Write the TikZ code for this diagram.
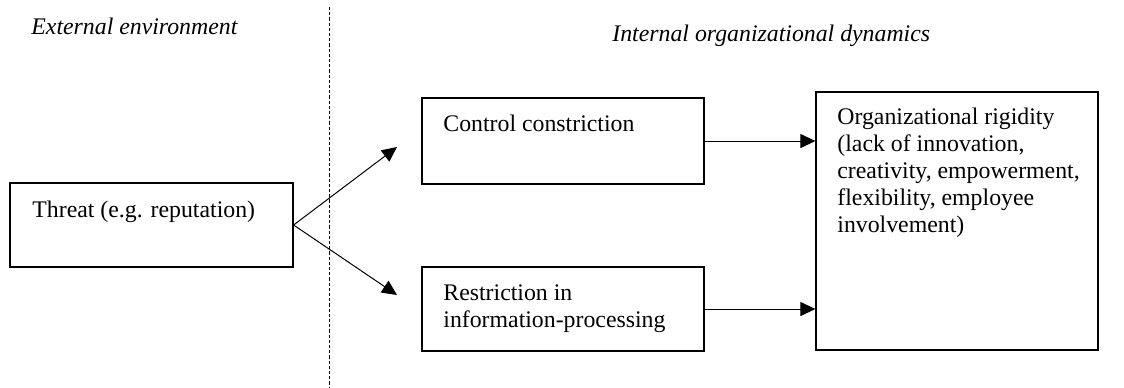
\documentclass[tikz,border=0pt]{standalone}
\usepackage{fontspec}
\setmainfont{Liberation Serif}
\usetikzlibrary{arrows.meta}
\begin{document}
\begin{tikzpicture}[x=0.5pt,y=-0.5pt,
  every node/.style={font=\fontsize{11.9}{13.5}\selectfont},
  box/.style={draw, line width=0.6pt, inner sep=0pt},
  txt/.style={anchor=base west, inner sep=0pt, align=left},
  heading/.style={anchor=base west, inner sep=0pt, font=\fontsize{11.9}{13.5}\selectfont\itshape},
  link/.style={line width=0.5pt, -{Triangle[length=7.5pt,width=7pt]}},
  divider/.style={line width=0.45pt, dash pattern=on 1.6pt off 1pt}]
\useasboundingbox (0,0) rectangle (1124,387);

% section headings
\node[heading] (ext) at (31,34) {External environment};
\node[heading] (int) at (612,41) {Internal organizational dynamics};

% boundary between environment and organization
\coordinate (divtop) at (329,7);
\coordinate (divbot) at (329,387);
\draw[divider] (divtop) -- (divbot);

% boxes
\node[box, minimum width=283*0.5pt, minimum height=84*0.5pt] (threat) at (151.5,225) {};
\node[box, minimum width=282*0.5pt, minimum height=86*0.5pt] (control) at (563,141) {};
\node[box, minimum width=282*0.5pt, minimum height=84*0.5pt] (restrict) at (563,309) {};
\node[box, minimum width=282*0.5pt, minimum height=258*0.5pt] (rigid) at (957,221) {};

% box texts (multi-line texts sit on the baseline of their last line)
\node[txt] (threattxt) at (32,217) {Threat (e.g. reputation)};
\node[txt] (controltxt) at (443,131) {Control constriction};
\node[txt] (restricttxt) at (443,327) {Restriction in\\information-processing};
\node[txt] (rigidtxt) at (837,232) {Organizational rigidity\\(lack of innovation,\\creativity, empowerment,\\flexibility, employee\\involvement)};

% connectors
\coordinate (upend) at (397,147);
\coordinate (downend) at (397,295);
\draw[link] (threat.east) -- (upend);
\draw[link] (threat.east) -- (downend);
\draw[link] (control.east) -- (control.east -| rigid.west);
\draw[link] (restrict.east) -- (restrict.east -| rigid.west);
\end{tikzpicture}
\end{document}
